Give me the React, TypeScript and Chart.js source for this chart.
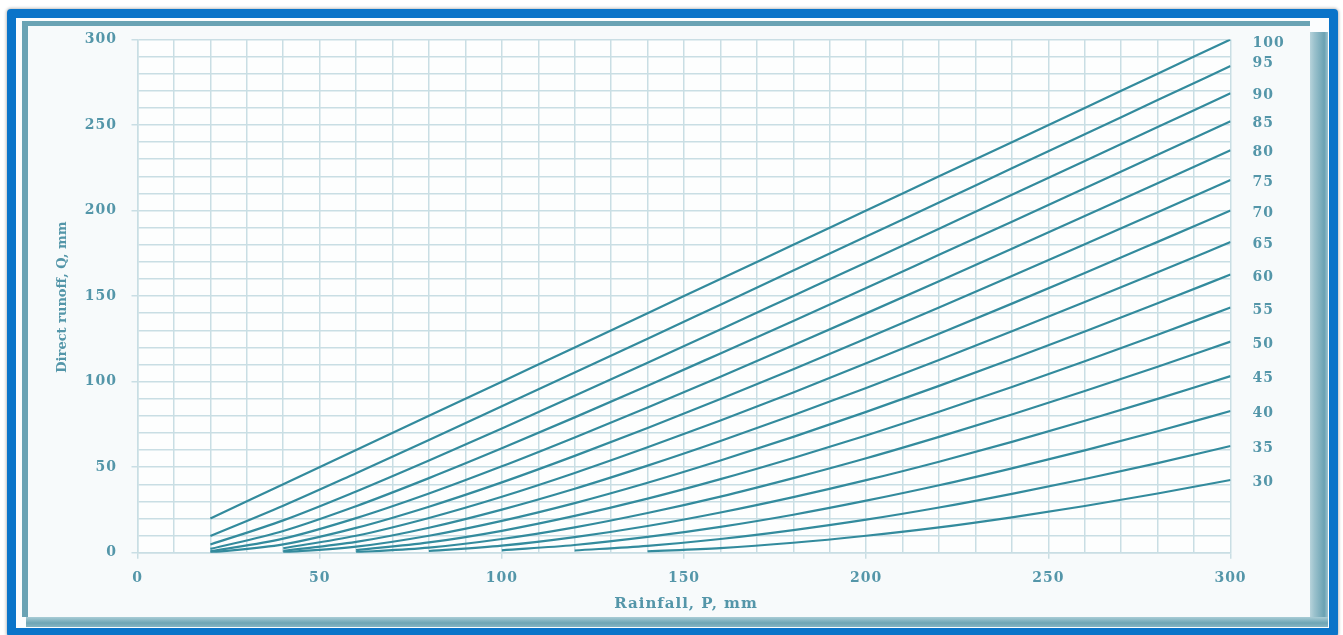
import { useEffect, useRef } from "react";
import { Chart, registerables } from "chart.js";

Chart.register(...registerables);

// Rainfall depths (mm) at which runoff was tabulated
const rainfallP = [20, 40, 60, 80, 100, 120, 140, 160, 180, 200, 220, 240, 260, 280, 300];

// Curve numbers, one line each
const curveNumbers = [100, 95, 90, 85, 80, 75, 70, 65, 60, 55, 50, 45, 40, 35, 30];

// Direct runoff Q (mm) for each curve number, aligned with rainfallP
const runoffCN100 = [20, 40, 60, 80, 100, 120, 140, 160, 180, 200, 220, 240, 260, 280, 300];
const runoffCN95 = [9.8, 27.5, 46.5, 65.9, 85.6, 105.3, 125.1, 145.0, 164.9, 184.8, 204.7, 224.7, 244.6, 264.6, 284.5];
const runoffCN90 = [4.8, 18.9, 35.8, 53.9, 72.6, 91.7, 111.0, 130.5, 150.1, 169.7, 189.4, 209.2, 229.0, 248.8, 268.6];
const runoffCN85 = [2.2, 12.7, 27.2, 43.6, 61.0, 79.1, 97.6, 116.5, 135.5, 154.7, 174.1, 193.5, 213.0, 232.6, 252.2];
const runoffCN80 = [0.8, 8.2, 20.2, 34.6, 50.5, 67.4, 84.9, 102.9, 121.3, 139.9, 158.7, 177.7, 196.8, 216.0, 235.3];
const runoffCN75 = [0.1, 4.9, 14.5, 26.9, 41.1, 56.6, 72.9, 89.9, 107.3, 125.2, 143.3, 161.7, 180.3, 199.0, 217.9];
const runoffCN70 = [null, 2.6, 9.9, 20.3, 32.7, 46.6, 61.6, 77.3, 93.7, 110.7, 128.0, 145.6, 163.5, 181.7, 200.0];
const runoffCN65 = [null, 1.1, 6.3, 14.6, 25.2, 37.4, 50.9, 65.3, 80.5, 96.3, 112.7, 129.4, 146.5, 163.9, 181.6];
const runoffCN60 = [null, 0.2, 3.5, 9.9, 18.6, 29.0, 40.9, 53.9, 67.7, 82.3, 97.5, 113.2, 129.3, 145.8, 162.6];
const runoffCN55 = [null, null, 1.5, 6.0, 12.8, 21.5, 31.6, 43.0, 55.4, 68.5, 82.4, 96.9, 111.9, 127.4, 143.3];
const runoffCN50 = [null, null, 0.3, 3.0, 8.0, 14.8, 23.2, 32.8, 43.6, 55.2, 67.7, 80.8, 94.5, 108.7, 123.4];
const runoffCN45 = [null, null, null, 1.0, 4.1, 9.1, 15.6, 23.5, 32.5, 42.4, 53.2, 64.8, 77.1, 89.9, 103.2];
const runoffCN40 = [null, null, null, null, 1.4, 4.5, 9.2, 15.1, 22.2, 30.4, 39.4, 49.3, 59.8, 71.0, 82.8];
const runoffCN35 = [null, null, null, null, null, 1.3, 4.0, 8.0, 13.2, 19.3, 26.4, 34.4, 43.1, 52.4, 62.4];
const runoffCN30 = [null, null, null, null, null, null, 0.8, 2.7, 5.8, 9.9, 14.8, 20.7, 27.3, 34.6, 42.5];

const runoffSeries = [
  runoffCN100, runoffCN95, runoffCN90, runoffCN85, runoffCN80,
  runoffCN75, runoffCN70, runoffCN65, runoffCN60, runoffCN55,
  runoffCN50, runoffCN45, runoffCN40, runoffCN35, runoffCN30,
];

const xTitle = "Rainfall, P, mm";
const yTitle = "Direct runoff, Q, mm";

const LINE = "#338b9d";
const GRID = "#c9dee4";
const TEXT = "#5496a9";
const FONT = "'DejaVu Serif', 'Liberation Serif', serif";

// Small vertical adjustments for end-of-line curve labels
const labelNudge: Record<number, number> = { 100: 1.5, 95: -5.5 };

const decorations = {
  id: "decorations",
  beforeDraw(chart: any) {
    const { ctx, chartArea: a } = chart;
    ctx.save();
    ctx.fillStyle = "#fdfefe";
    ctx.fillRect(a.left, a.top, a.right - a.left, a.bottom - a.top);
    ctx.restore();
    ctx.letterSpacing = "1px";
  },
  afterDraw(chart: any) {
    const { ctx, chartArea: a } = chart;
    ctx.save();
    ctx.fillStyle = TEXT;
    ctx.font = `bold 14px ${FONT}`;
    ctx.letterSpacing = "1px";
    ctx.textAlign = "left";
    ctx.textBaseline = "middle";
    chart.data.datasets.forEach((ds: any, i: number) => {
      const meta = chart.getDatasetMeta(i);
      const last = meta.data[meta.data.length - 1];
      const cn = curveNumbers[i];
      ctx.fillText(String(cn), a.right + 22, last.y + 2.5 + (labelNudge[cn] || 0));
    });

    // axis titles
    ctx.textAlign = "center";
    ctx.font = `bold 15px ${FONT}`;
    ctx.letterSpacing = "1px";
    ctx.fillText(xTitle, (a.left + a.right) / 2 + 2, a.bottom + 51.5);

    ctx.font = `bold 13px ${FONT}`;
    ctx.letterSpacing = "0px";
    ctx.translate(a.left - 74.5, (a.top + a.bottom) / 2 + 1);
    ctx.rotate(-Math.PI / 2);
    ctx.fillText(yTitle, 0, 0);
    ctx.restore();
  },
};

const majorOnly = (c: any) => (c.tick && c.tick.value % 50 === 0 ? GRID : "rgba(0,0,0,0)");

export default function App() {
  const ref = useRef<HTMLCanvasElement | null>(null);

  useEffect(() => {
    if (!ref.current) return;
    const datasets = runoffSeries.map((series, i) => ({
      label: `CN ${curveNumbers[i]}`,
      data: rainfallP
        .map((p, j) => ({ x: p, y: series[j] }))
        .filter((pt) => pt.y !== null),
      borderColor: LINE,
      borderWidth: 2.2,
      pointRadius: 0,
      fill: false,
      cubicInterpolationMode: "monotone" as const,
    }));

    const chart = new Chart(ref.current, {
      type: "line",
      data: { datasets },
      options: {
        responsive: false,
        animation: false,
        layout: { padding: { left: 0, top: 13.5, right: 72.5, bottom: 0 } },
        plugins: {
          legend: { display: false },
          tooltip: { enabled: false },
        },
        scales: {
          x: {
            type: "linear",
            min: 0,
            max: 300,
            afterFit: (s: any) => {
              s.height = 64.3;
              s.paddingLeft = 0;
              s.paddingRight = 0;
            },
            ticks: {
              stepSize: 10,
              autoSkip: false,
              maxRotation: 0,
              padding: 11,
              color: TEXT,
              font: { family: FONT, weight: "bold", size: 14 },
              callback: (v: any) => (Number(v) % 50 === 0 ? String(v) : ""),
            },
            grid: { color: GRID, lineWidth: 1.5, tickLength: 6, tickColor: majorOnly },
            border: { color: GRID, width: 1.5 },
          },
          y: {
            type: "linear",
            min: 0,
            max: 300,
            afterFit: (s: any) => {
              s.width = 109.5;
              s.paddingTop = 0;
              s.paddingBottom = 0;
            },
            ticks: {
              stepSize: 10,
              autoSkip: false,
              padding: 14.5,
              color: TEXT,
              font: { family: FONT, weight: "bold", size: 14 },
              callback: (v: any) => (Number(v) % 50 === 0 ? String(v) : ""),
            },
            grid: { color: GRID, lineWidth: 1.5, tickLength: 6, tickColor: majorOnly },
            border: { color: GRID, width: 1.5 },
          },
        },
      },
      plugins: [decorations],
    });
    return () => chart.destroy();
  }, []);

  return (
    <div style={{ position: "absolute", left: 0, top: 0, width: 1343, height: 635, background: "#ffffff", overflow: "hidden" }}>
      <div
        style={{
          position: "absolute", left: 7, top: 9, width: 1331, height: 628, boxSizing: "border-box",
          border: "9px solid #0a74c9", borderRadius: 4, background: "#fbfdfe",
          boxShadow: "0 0 3px 1px rgba(0,0,0,0.25)",
        }}
      />
      <div
        style={{
          position: "absolute", left: 1303, top: 32, width: 25, height: 594,
          background: "linear-gradient(to right, #e3eef2, #9cc2cd 45%, #6aa2b3 85%, #9cc3ce)",
        }}
      />
      <div
        style={{
          position: "absolute", left: 26, top: 617, width: 1302, height: 10,
          background: "linear-gradient(to bottom, #a9ccd6, #6ea5b5 60%, #86b5c2)",
        }}
      />
      <div
        style={{
          position: "absolute", left: 22, top: 21, width: 1288, height: 596, boxSizing: "border-box",
          borderLeft: "6px solid #6aa3b4", borderTop: "5px solid #6aa3b4", background: "#f7fafb",
        }}
      >
        <canvas ref={ref} width={1275} height={591} style={{ position: "absolute", left: 0, top: 0 }} />
      </div>
    </div>
  );
}
